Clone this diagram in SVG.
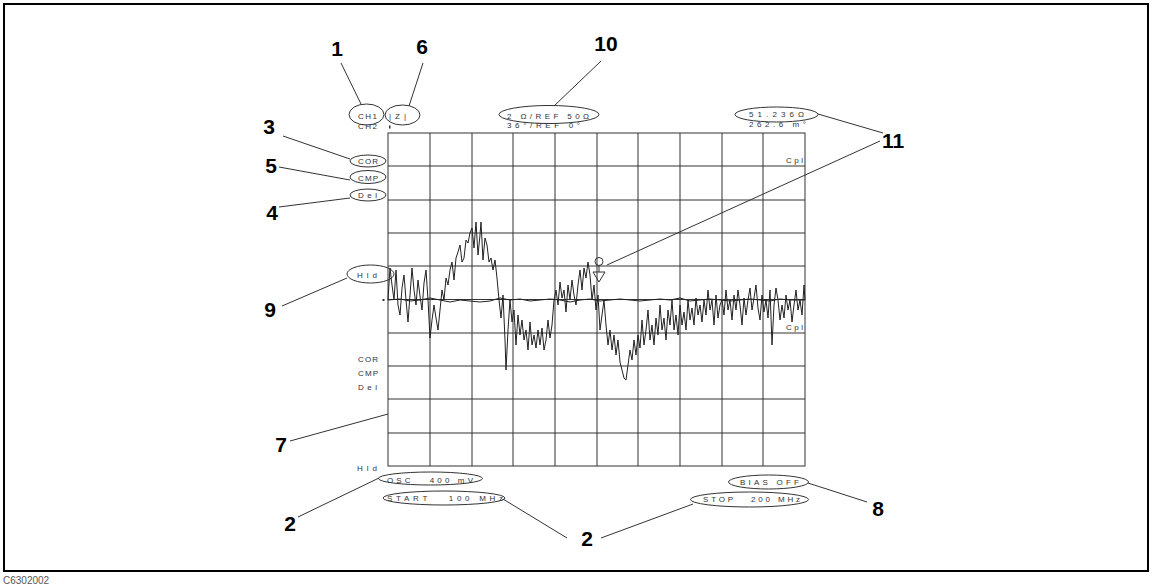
<svg xmlns="http://www.w3.org/2000/svg" width="1154" height="588" viewBox="0 0 1154 588">
<style>
.num{font-family:"Liberation Sans",Arial,sans-serif;font-size:21px;font-weight:bold;fill:#000;text-anchor:middle}
.sm{font-family:"Liberation Sans",Arial,sans-serif;font-size:8px;fill:#333}
.el{fill:none;stroke:#333;stroke-width:1}
.grid line{stroke:#333;stroke-width:1}
.con line{stroke:#333;stroke-width:1}
.tr{fill:none;stroke:#222;stroke-width:1}
</style>
<rect width="1154" height="588" fill="#fff"/>
<rect x="4" y="4" width="1144" height="567" fill="none" stroke="#000" stroke-width="2"/>
<text x="3" y="584" font-family="Liberation Sans,Arial,sans-serif" font-size="10" fill="#555">C6302002</text>

<g id="grid" class="grid">
<rect x="388" y="133" width="417" height="333" fill="none" stroke="#333"/>
<line x1="430" y1="133" x2="430" y2="466"/><line x1="472" y1="133" x2="472" y2="466"/><line x1="513" y1="133" x2="513" y2="466"/><line x1="555" y1="133" x2="555" y2="466"/><line x1="597" y1="133" x2="597" y2="466"/><line x1="638" y1="133" x2="638" y2="466"/><line x1="680" y1="133" x2="680" y2="466"/><line x1="722" y1="133" x2="722" y2="466"/><line x1="763" y1="133" x2="763" y2="466"/>
<line x1="388" y1="166" x2="805" y2="166"/><line x1="388" y1="200" x2="805" y2="200"/><line x1="388" y1="233" x2="805" y2="233"/><line x1="388" y1="266" x2="805" y2="266"/><line x1="388" y1="299.5" x2="805" y2="299.5"/><line x1="388" y1="333" x2="805" y2="333"/><line x1="388" y1="366" x2="805" y2="366"/><line x1="388" y1="399" x2="805" y2="399"/><line x1="388" y1="433" x2="805" y2="433"/>
</g>

<g id="traces">
<polyline class="tr" points="388,300 390,268 392,285 394,300 396,270 398,305 400,315 402,288 404,275 406,300 408,322 410,295 412,268 414,290 416,305 418,280 420,296 422,310 424,283 426,270 428,300 430,338 432,320 434,305 436,318 438,330 440,310 442,290 444,300 446,278 448,285 450,270 452,262 454,280 456,258 458,252 460,245 462,262 464,258 466,240 468,243 470,233 472,228 474,248 476,222 478,255 480,235 481,222 483,260 485,238 487,245 489,262 491,258 493,270 495,260 497,278 499,300 501,318 503,295 505,340 506,370 508,330 510,300 512,322 514,310 516,345 518,315 520,335 522,320 524,340 526,330 528,350 530,322 532,345 534,335 536,348 538,330 540,345 542,328 544,350 546,340 548,320 550,338 552,325 554,300 556,290 558,305 560,282 562,298 564,290 566,312 568,285 570,300 572,280 574,295 576,305 578,285 580,270 582,290 584,268 586,278 588,262 590,275 592,300 594,285 596,310 598,295 600,330 602,315 604,300 606,325 608,345 610,330 612,350 614,335 616,355 618,340 620,362 622,370 624,378 626,380 628,365 630,350 632,360 634,340 636,355 638,335 640,348 642,320 644,345 646,330 648,310 650,340 652,325 654,345 656,318 658,335 660,305 662,330 664,318 666,340 668,310 670,325 672,300 674,330 676,315 678,335 680,305 682,325 684,312 686,330 688,300 690,320 692,308 694,325 696,298 698,315 700,305 702,322 704,300 706,315 708,290 710,310 712,300 714,325 716,295 718,318 720,305 722,300 724,315 726,290 728,310 730,300 732,320 734,295 736,310 738,290 740,305 742,325 744,298 746,315 748,300 750,288 752,310 754,298 756,285 758,308 760,320 762,295 764,312 766,300 768,318 770,290 772,345 774,305 776,288 778,300 780,320 782,305 784,318 786,295 788,310 790,300 792,322 794,305 796,290 798,310 800,300 802,315 804,285 805,300"/>
<polyline class="tr" stroke="#555" points="388,300 400,299 410,301 420,300 430,298 440,300 450,302 460,300 470,301 480,302 490,301 500,298 510,300 520,299 530,301 540,300 550,299 560,300 570,302 580,300 590,299 600,301 610,300 620,299 630,300 640,301 650,300 660,299 670,300 680,298 690,301 700,300 710,299 720,300 730,301 740,300 750,299 760,300 770,301 780,299 790,300 805,300"/>
<circle cx="599" cy="261.5" r="4" class="el"/>
<line x1="599" y1="265.5" x2="599" y2="272" stroke="#333"/>
<polygon points="593,272 605,272 599,282" class="el"/>
<rect x="382.5" y="299" width="2" height="2" fill="#333"/>
</g>

<g id="con" class="con">
<line x1="341" y1="63" x2="361" y2="104"/>
<line x1="423" y1="63" x2="409" y2="106"/>
<line x1="601" y1="61" x2="554" y2="106"/>
<line x1="883" y1="133" x2="818" y2="114"/>
<line x1="880" y1="141" x2="607" y2="265"/>
<line x1="283" y1="136" x2="350" y2="159"/>
<line x1="279" y1="167" x2="350" y2="180"/>
<line x1="279" y1="207" x2="350" y2="198"/>
<line x1="282" y1="306" x2="347" y2="278"/>
<line x1="290" y1="441" x2="388" y2="414"/>
<line x1="298" y1="517" x2="379" y2="478"/>
<line x1="503" y1="499" x2="567" y2="538"/>
<line x1="601" y1="538" x2="693" y2="504"/>
<line x1="867" y1="502" x2="808" y2="483"/>
</g>

<g id="n1"><text class="num" x="337" y="56">1</text></g>
<g id="n6"><text class="num" x="422" y="54">6</text></g>
<g id="n10"><text class="num" x="606" y="51">10</text></g>
<g id="n11"><text class="num" x="893" y="148">11</text></g>
<g id="n3"><text class="num" x="269" y="134">3</text></g>
<g id="n5"><text class="num" x="271" y="173">5</text></g>
<g id="n4"><text class="num" x="272" y="220">4</text></g>
<g id="n9"><text class="num" x="270" y="317">9</text></g>
<g id="n7"><text class="num" x="281" y="452">7</text></g>
<g id="n2a"><text class="num" x="290" y="531">2</text></g>
<g id="n2b"><text class="num" x="587" y="546">2</text></g>
<g id="n8"><text class="num" x="878" y="516">8</text></g>

<g id="ch1"><ellipse class="el" cx="366.5" cy="114.5" rx="17.5" ry="10.5"/><text class="sm" x="358" y="119" textLength="19" lengthAdjust="spacing">CH1</text></g>
<g id="ch2"><text class="sm" x="358" y="129" textLength="19" lengthAdjust="spacing">CH2</text><rect x="389" y="125.5" width="1.5" height="3" fill="#333"/></g>
<g id="absz"><ellipse class="el" cx="402.5" cy="115" rx="17.5" ry="10"/><text class="sm" x="389" y="119" textLength="17" lengthAdjust="spacing">|Z|</text></g>
<g id="scale"><ellipse class="el" cx="549" cy="114.5" rx="50" ry="9"/><text class="sm" x="507" y="119" textLength="82" lengthAdjust="spacing" xml:space="preserve">2 Ω/REF 50Ω</text><text class="sm" x="507" y="128" textLength="73" lengthAdjust="spacing" xml:space="preserve">36°/REF 0°</text></g>
<g id="marker"><ellipse class="el" cx="776.5" cy="114.5" rx="41.5" ry="7.5"/><text class="sm" x="749" y="116.5" textLength="55" lengthAdjust="spacing">51.236Ω</text><text class="sm" x="749" y="126.5" textLength="57" lengthAdjust="spacing" xml:space="preserve">262.6 m°</text></g>
<g id="cpl1"><text class="sm" x="786" y="163" textLength="17" lengthAdjust="spacing">Cpl</text></g>
<g id="cpl2"><text class="sm" x="786" y="330" textLength="17" lengthAdjust="spacing">Cpl</text></g>
<g id="cor"><ellipse class="el" cx="368" cy="161" rx="18" ry="6"/><text class="sm" x="358" y="164" textLength="20" lengthAdjust="spacing">COR</text></g>
<g id="cmp"><ellipse class="el" cx="368" cy="177" rx="18" ry="6.5"/><text class="sm" x="358" y="181" textLength="20" lengthAdjust="spacing">CMP</text></g>
<g id="del"><ellipse class="el" cx="368" cy="195" rx="18" ry="6"/><text class="sm" x="358" y="197.5" textLength="19" lengthAdjust="spacing">Del</text></g>
<g id="hld"><ellipse class="el" cx="370.5" cy="274" rx="23.5" ry="9"/><text class="sm" x="357" y="277.5" textLength="20" lengthAdjust="spacing">Hld</text></g>
<g id="ch2ann"><text class="sm" x="358" y="362" textLength="20" lengthAdjust="spacing">COR</text><text class="sm" x="358" y="376" textLength="20" lengthAdjust="spacing">CMP</text><text class="sm" x="358" y="389.5" textLength="19" lengthAdjust="spacing">Del</text><text class="sm" x="357" y="471" textLength="20" lengthAdjust="spacing">Hld</text></g>
<g id="osc"><ellipse class="el" cx="430.5" cy="478.5" rx="52" ry="6.5"/><text class="sm" x="387" y="483" textLength="86" lengthAdjust="spacing" xml:space="preserve">OSC   400 mV</text></g>
<g id="start"><ellipse class="el" cx="444" cy="498" rx="61" ry="7"/><text class="sm" x="387" y="501" textLength="116" lengthAdjust="spacing" xml:space="preserve">START   100 MHz</text></g>
<g id="bias"><ellipse class="el" cx="768.5" cy="482" rx="40" ry="7"/><text class="sm" x="740" y="484.5" textLength="59" lengthAdjust="spacing" xml:space="preserve">BIAS OFF</text></g>
<g id="stop"><ellipse class="el" cx="749.5" cy="499.5" rx="59" ry="7.5"/><text class="sm" x="703" y="501.5" textLength="97" lengthAdjust="spacing" xml:space="preserve">STOP   200 MHz</text></g>
</svg>
